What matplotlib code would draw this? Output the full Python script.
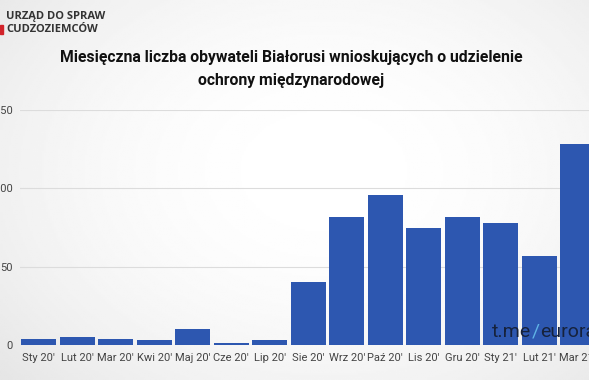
import matplotlib.pyplot as plt
import numpy as np

months = ["Sty 20'", "Lut 20'", "Mar 20'", "Kwi 20'", "Maj 20'", "Cze 20'", "Lip 20'",
          "Sie 20'", "Wrz 20'", "Paź 20'", "Lis 20'", "Gru 20'", "Sty 21'", "Lut 21'", "Mar 21'"]
counts = [4, 5, 4, 3, 10, 1, 3, 40, 82, 96, 75, 82, 78, 57, 128]
yticks = [0, 50, 100, 150]

title = "Miesięczna liczba obywateli Białorusi wnioskujących o udzielenie\nochrony międzynarodowej"

plt.rcParams['font.family'] = ['Roboto', 'DejaVu Sans']

W, H = 589, 380
fig = plt.figure(figsize=(W / 100, H / 100), dpi=100)

# soft grey background, lighter in the middle
bg = fig.add_axes([0, 0, 1, 1])
yy, xx = np.mgrid[0:1:200j, 0:1:300j]
r = np.sqrt(((xx - 0.55) / 0.8) ** 2 + ((yy - 0.45) / 0.9) ** 2)
bg.imshow(1 - 0.12 * np.clip(r, 0, 1) ** 2, cmap='gray', vmin=0, vmax=1,
          aspect='auto', extent=[0, 1, 0, 1])
bg.axis('off')

# axes run a little past the right edge, like the cropped screenshot
x_left, x_right = 19.5, 597.0
y_bot, y_top = 345.0, 110.0
ax = fig.add_axes([x_left / W, (H - y_bot) / H, (x_right - x_left) / W, (y_bot - y_top) / H])
ax.patch.set_alpha(0)

x = np.arange(len(months))
ax.bar(x, counts, width=0.91, color='#2d57b0', zorder=3)

ax.set_xlim(-0.5, len(months) - 0.5)
ax.set_ylim(0, 150)
ax.set_yticks(yticks)
ax.set_xticks(x)
ax.set_xticklabels(months)
ax.tick_params(axis='both', length=0, labelsize=8, colors='#444444')
ax.tick_params(axis='x', pad=6)
ax.tick_params(axis='y', pad=5)
ax.grid(axis='y', color='#dcdcdc', linewidth=0.8, zorder=0)
for s in ax.spines.values():
    s.set_visible(False)

fig.text(0.495, 1 - 69 / H, title, ha='center', va='center', fontsize=11.3,
         fontweight='bold', color='#111111', linespacing=1.6)

# logo in the corner
fig.text(6 / W, 1 - 17 / H, "URZĄD DO SPRAW", fontsize=8, fontweight='bold',
         family='Open Sans', color='#333333', va='center')
fig.text(6 / W, 1 - 30 / H, "CUDZOZIEMCÓW", fontsize=8, fontweight='bold',
         family='Open Sans', color='#333333', va='center')
fig.patches.append(plt.Rectangle((0, 1 - 34 / H), 2.5 / W, 9 / H, transform=fig.transFigure,
                                 color='#d2232a'))

# watermark
t1 = fig.text(492 / W, 1 - 337 / H, "t.me", fontsize=14, color='#16223c', va='baseline')
t2 = fig.text(0, 0, "/", fontsize=14, color='#5fb3e6', va='baseline')
t3 = fig.text(0, 0, "eurora", fontsize=14, color='#16223c', va='baseline')
fig.canvas.draw()
r = fig.canvas.get_renderer()
e1 = t1.get_window_extent(r)
t2.set_position(((e1.x1 + 0.5) / W, t1.get_position()[1]))
e2 = t2.get_window_extent(r)
t3.set_position(((e2.x1 + 0.5) / W, t1.get_position()[1]))

fig.savefig('out.png', dpi=100)
